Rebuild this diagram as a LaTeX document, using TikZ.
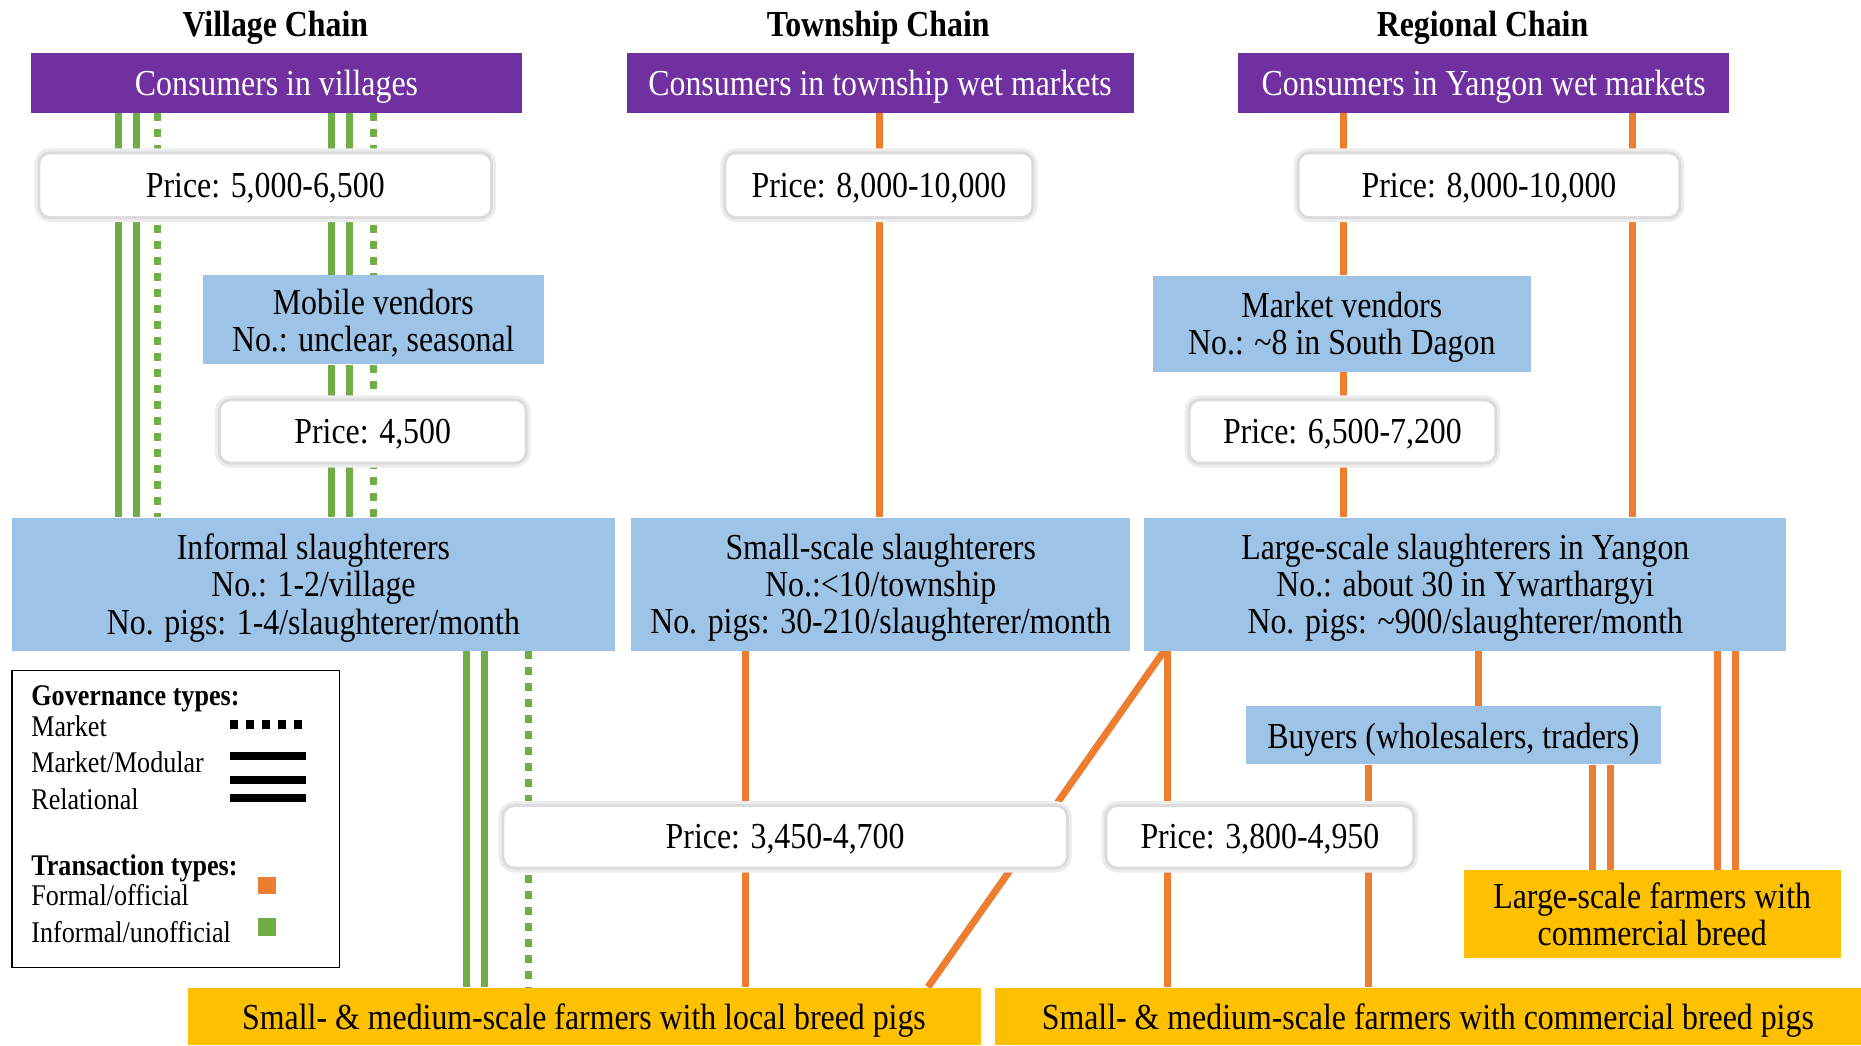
\documentclass[tikz,border=0pt]{standalone}
\usepackage{fontspec}
\setmainfont{Liberation Serif}[FakeStretch=0.87]
\definecolor{cpurple}{HTML}{7030A0}
\definecolor{cblue}{HTML}{9DC3E6}
\definecolor{corange}{HTML}{ED7D31}
\definecolor{cgreen}{HTML}{70AD47}
\definecolor{cgold}{HTML}{FFC000}
\pgfdeclarelayer{bg}
\pgfsetlayers{bg,main}
\begin{document}
\begin{tikzpicture}[x=0.5pt,y=-0.5pt,
  every node/.style={inner sep=0pt, align=center, font=\fontsize{18.3}{18.6}\selectfont},
  boxtext/.style={text depth=0pt},
  cons/.style={boxtext, fill=cpurple, text=white, minimum height=29.7pt},
  actor/.style={boxtext, fill=cblue},
  farm/.style={boxtext, fill=cgold},
  pricebox/.style={boxtext, fill=white, rounded corners=5pt,
     preaction={draw=black!7, line width=6pt},
     preaction={draw=black!14, line width=3pt}},
  chaintitle/.style={boxtext, font=\fontsize{18.3}{20}\selectfont\bfseries},
  legtext/.style={anchor=base west, font=\fontsize{15}{16}\selectfont},
  legbold/.style={anchor=base west, font=\fontsize{15}{16}\selectfont\bfseries},
  ol/.style={draw=corange, line width=3.5pt},
  gl/.style={draw=cgreen, line width=3.5pt},
  gd/.style={draw=cgreen, line width=3.5pt, dash pattern=on 4pt off 4pt}
]
\useasboundingbox (0,0) rectangle (1861,1045);

% titles
\node[chaintitle] (t1) at (275.4,24) {Village Chain};
\node[chaintitle] (t2) at (878.3,24) {Township Chain};
\node[chaintitle] (t3) at (1482.5,24) {Regional Chain};

% consumers
\node[cons, minimum width=245.7pt] (cv) at (276.5,83.1) {Consumers in villages};
\node[cons, minimum width=253.4pt] (ct) at (880.1,83.1) {Consumers in township wet markets};
\node[cons, minimum width=245.7pt] (cy) at (1483.7,83.1) {Consumers in Yangon wet markets};

% prices row 1
\node[pricebox, minimum width=224.9pt, minimum height=30.9pt] (p1) at (265.3,185.2) {Price: 5,000-6,500};
\node[pricebox, minimum width=152.5pt, minimum height=30.9pt] (p2) at (878.9,185.2) {Price: 8,000-10,000};
\node[pricebox, minimum width=189.3pt, minimum height=30.9pt] (p3) at (1489,185.2) {Price: 8,000-10,000};

% vendors
\node[actor, minimum width=170.3pt, minimum height=44.5pt] (mv) at (373.3,319.9) {Mobile vendors\\No.: unclear, seasonal};
\node[actor, minimum width=189.3pt, minimum height=48pt] (mk) at (1341.8,323.5) {Market vendors\\No.: \textasciitilde8 in South Dagon};

% prices row 2
\node[pricebox, minimum width=151.9pt, minimum height=30.2pt] (p4) at (372.7,431.5) {Price: 4,500};
\node[pricebox, minimum width=151.9pt, minimum height=30.2pt] (p5) at (1342.4,431.5) {Price: 6,500-7,200};

% slaughterers
\node[actor, minimum width=301.5pt, minimum height=66.5pt] (inf) at (313.4,584) {Informal slaughterers\\No.: 1-2/village\\No. pigs: 1-4/slaughterer/month};
\node[actor, minimum width=249.3pt, minimum height=66.5pt] (sml) at (880.7,584) {Small-scale slaughterers\\No.:<10/township\\No. pigs: 30-210/slaughterer/month};
\node[actor, minimum width=321pt, minimum height=66.5pt] (lrg) at (1465.3,584) {Large-scale slaughterers in Yangon\\No.: about 30 in Ywarthargyi\\No. pigs: \textasciitilde900/slaughterer/month};

% buyers
\node[actor, minimum width=207.2pt, minimum height=29.1pt] (buy) at (1453.4,735.3) {Buyers (wholesalers, traders)};

% prices row 3
\node[pricebox, minimum width=280.7pt, minimum height=29.7pt] (p6) at (785.1,836.8) {Price: 3,450-4,700};
\node[pricebox, minimum width=152.5pt, minimum height=29.7pt] (p7) at (1259.9,836.8) {Price: 3,800-4,950};

% farmers
\node[farm, minimum width=188.7pt, minimum height=43.9pt] (lf) at (1652.2,913.9) {Large-scale farmers with\\commercial breed};
\node[farm, minimum width=396.5pt, minimum height=28.8pt] (loc) at (584,1016.3) {Small- \& medium-scale farmers with local breed pigs};
\node[farm, minimum width=433.2pt, minimum height=28.8pt] (com) at (1427.8,1016.3) {Small- \& medium-scale farmers with commercial breed pigs};

% legend
\node[draw=black, line width=0.6pt, minimum width=163.8pt, minimum height=148.4pt] (leg) at (175.7,819) {};
\node[legbold] (lg1) at (31,705) {Governance types:};
\node[legtext] (lg2) at (31,736.7) {Market};
\node[legtext] (lg3) at (31,772.7) {Market/Modular};
\node[legtext] (lg4) at (31,809) {Relational};
\node[legbold] (lg5) at (31,875) {Transaction types:};
\node[legtext] (lg6) at (31,905.7) {Formal/official};
\node[legtext] (lg7) at (31,942.3) {Informal/unofficial};
\draw[black, line width=4.5pt, dash pattern=on 4pt off 4pt] (230,724) -- (303,724);
\draw[black, line width=4pt] (230,756) -- (306,756);
\draw[black, line width=4pt] (230,780) -- (306,780);
\draw[black, line width=4pt] (230,797.7) -- (306,797.7);
\fill[corange] (257.7,876.7) rectangle (275.5,894);
\fill[cgreen] (257.7,917.7) rectangle (275.5,935.7);

% connectors
\begin{pgfonlayer}{bg}
% village chain: consumers <- informal slaughterers (relational, market)
\draw[gl] (118.7,0 |- cv.south) -- (118.7,0 |- inf.north);
\draw[gl] (136.5,0 |- cv.south) -- (136.5,0 |- inf.north);
\draw[gd] (157.9,0 |- cv.south) -- (157.9,0 |- inf.north);
% via mobile vendors
\draw[gl] (331.1,0 |- cv.south) -- (331.1,0 |- mv.north);
\draw[gl] (349,0 |- cv.south) -- (349,0 |- mv.north);
\draw[gd] (373.9,0 |- cv.south) -- (373.9,0 |- mv.north);
\draw[gl] (331.1,0 |- mv.south) -- (331.1,0 |- inf.north);
\draw[gl] (349,0 |- mv.south) -- (349,0 |- inf.north);
\draw[gd] (373.9,0 |- mv.south) -- (373.9,0 |- inf.north);
% informal slaughterers <- local farmers
\draw[gl] (466.5,0 |- inf.south) -- (466.5,0 |- loc.north);
\draw[gl] (484.3,0 |- inf.south) -- (484.3,0 |- loc.north);
\draw[gd] (528.2,0 |- inf.south) -- (528.2,0 |- loc.north);
% township chain
\draw[ol] (879.5,0 |- ct.south) -- (879.5,0 |- sml.north);
\draw[ol] (745.4,0 |- sml.south) -- (745.4,0 |- loc.north);
% regional chain
\draw[ol] (1343.6,0 |- cy.south) -- (1343.6,0 |- mk.north);
\draw[ol] (1343.6,0 |- mk.south) -- (1343.6,0 |- lrg.north);
\draw[ol] (1632,0 |- cy.south) -- (1632,0 |- lrg.north);
\draw[ol] (1164,0 |- lrg.south) -- (928,0 |- loc.north);
\draw[ol] (1167.5,0 |- lrg.south) -- (1167.5,0 |- com.north);
\draw[ol] (1478.9,0 |- lrg.south) -- (1478.9,0 |- buy.north);
\draw[ol] (1368.5,0 |- buy.south) -- (1368.5,0 |- com.north);
\draw[ol] (1592.8,0 |- buy.south) -- (1592.8,0 |- lf.north);
\draw[ol] (1610.7,0 |- buy.south) -- (1610.7,0 |- lf.north);
\draw[ol] (1717.5,0 |- lrg.south) -- (1717.5,0 |- lf.north);
\draw[ol] (1735.3,0 |- lrg.south) -- (1735.3,0 |- lf.north);
\end{pgfonlayer}
\end{tikzpicture}
\end{document}
